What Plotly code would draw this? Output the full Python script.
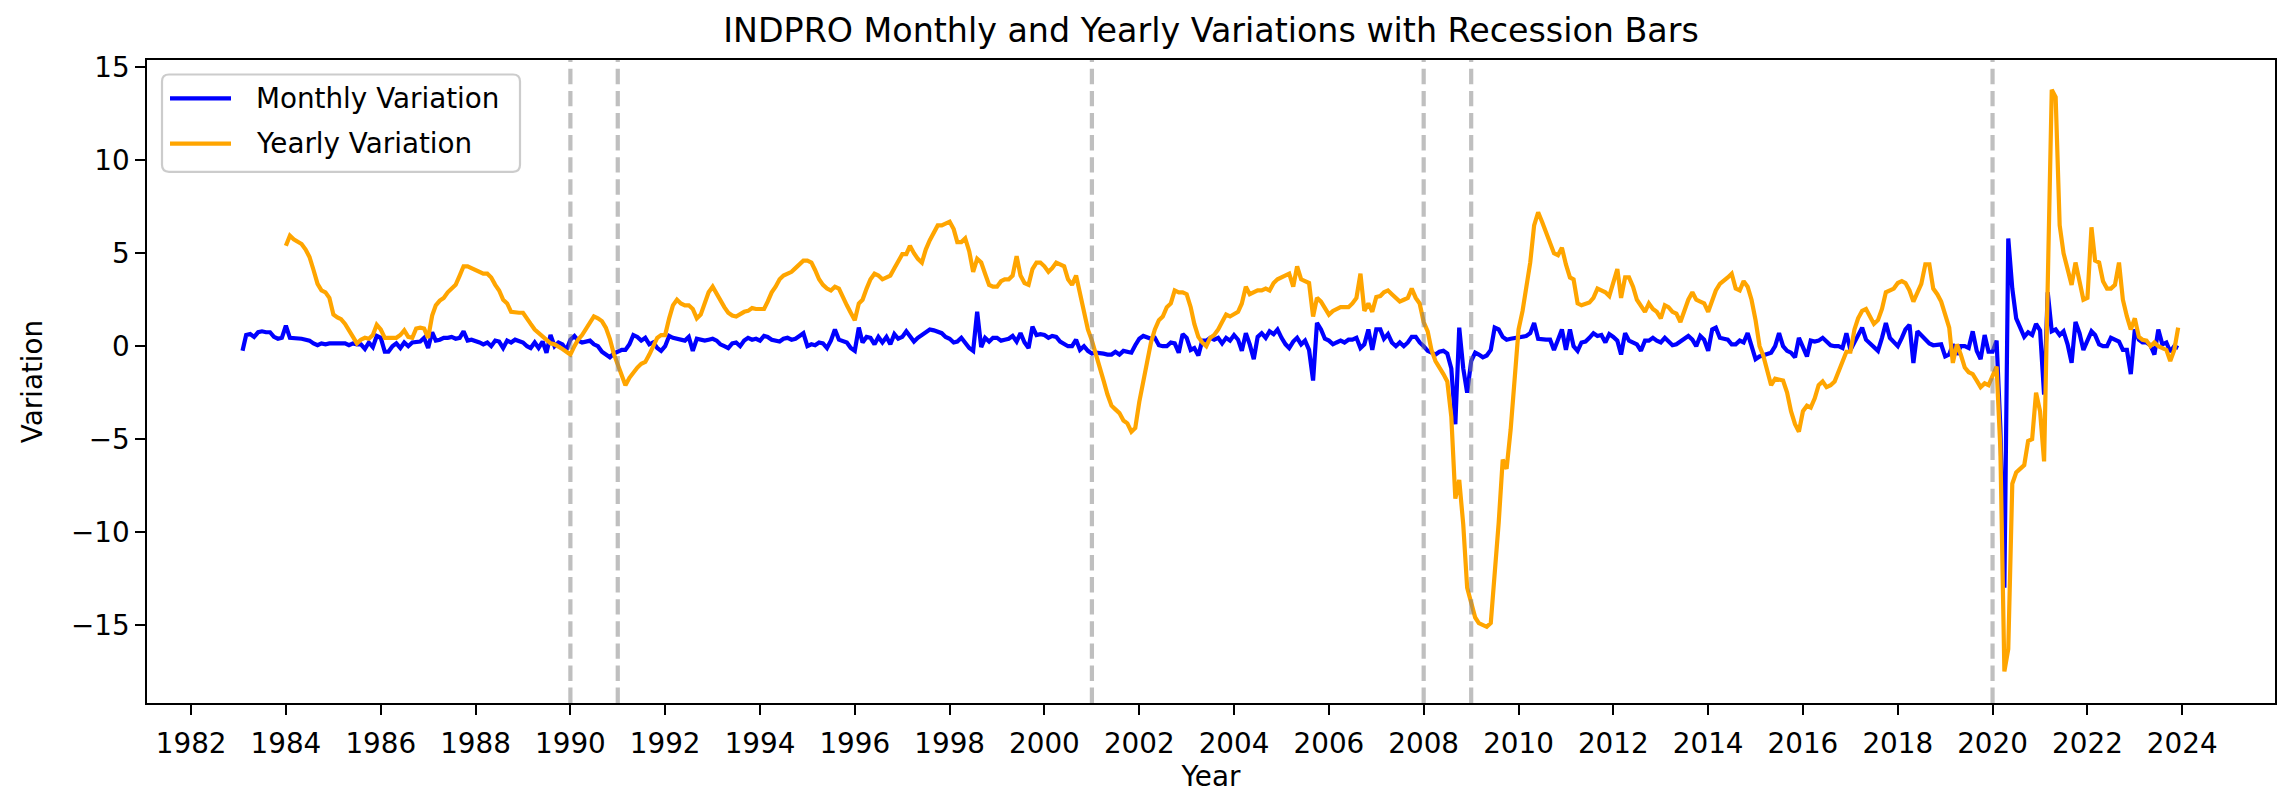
import pandas as pd
import plotly.graph_objects as go

# ---------------- data ----------------
# Monthly variation (%), Feb 1983 .. Dec 1989
monthly_1980s = [
    -0.25, 0.6, 0.65, 0.5, 0.75, 0.8, 0.75, 0.75, 0.5, 0.4, 0.45,
    1.1, 0.45, 0.45, 0.45, 0.4, 0.35, 0.3, 0.15, 0.05, 0.15, 0.1, 0.15,
    0.15, 0.1, 0.1, 0.15, 0.05, 0.15, 0.1, 0.1, -0.15, 0.2, -0.05, 0.55,
    0.45, -0.3, -0.3, 0.0, 0.15, -0.1, 0.2, 0.0, 0.2, 0.2, 0.25, 0.45,
    -0.1, 0.75, 0.3, 0.35, 0.45, 0.45, 0.5, 0.4, 0.45, 0.8, 0.3, 0.35,
    0.3, 0.2, 0.1, 0.2, 0.0, 0.3, 0.25, -0.1, 0.3, 0.2, 0.35, 0.25,
    0.2, 0.0, -0.1, 0.2, -0.1, 0.25, -0.35, 0.6, 0.0, 0.2, 0.1, -0.2,
]
# Monthly variation (%), Jan 1990 .. Dec 1999
monthly_1990s = [
    0.35, 0.55, 0.3, 0.2, 0.25, 0.3, 0.1, 0.0, -0.3, -0.45, -0.6, -0.4,
    -0.3, -0.2, -0.2, 0.1, 0.6, 0.5, 0.3, 0.45, 0.1, 0.2, -0.1, -0.25,
    0.0, 0.55, 0.45, 0.4, 0.35, 0.3, 0.5, -0.25, 0.4, 0.35, 0.3, 0.35,
    0.4, 0.3, 0.1, 0.0, -0.1, 0.15, 0.2, 0.0, 0.3, 0.45, 0.35, 0.4,
    0.3, 0.55, 0.5, 0.35, 0.3, 0.25, 0.4, 0.45, 0.35, 0.4, 0.55, 0.7,
    0.0, 0.1, 0.05, 0.2, 0.15, -0.1, 0.3, 0.9, 0.35, 0.25, 0.2, -0.1,
    -0.25, 1.0, 0.2, 0.5, 0.45, 0.1, 0.5, 0.2, 0.5, 0.1, 0.65, 0.4,
    0.5, 0.8, 0.5, 0.25, 0.45, 0.6, 0.75, 0.9, 0.85, 0.75, 0.7, 0.5,
    0.4, 0.2, 0.25, 0.45, 0.2, -0.1, -0.25, 1.85, -0.05, 0.45, 0.25, 0.45,
    0.45, 0.3, 0.35, 0.4, 0.55, 0.25, 0.7, 0.2, -0.1, 1.05, 0.6, 0.65,
]
# Monthly variation (%), Jan 2000 .. Dec 2009
monthly_2000s = [
    0.6, 0.45, 0.55, 0.5, 0.25, 0.1, 0.0, 0.0, 0.35, -0.2, 0.0, -0.25,
    -0.4, -0.35, -0.35, -0.4, -0.45, -0.45, -0.3, -0.45, -0.25, -0.3, -0.35, 0.05,
    0.4, 0.55, 0.45, 0.4, 0.45, 0.05, 0.0, 0.0, 0.2, 0.15, -0.35, 0.65,
    0.45, -0.2, -0.1, -0.5, 0.3, 0.3, 0.45, 0.35, 0.45, 0.15, 0.45, 0.3,
    0.6, 0.35, -0.25, 0.7, 0.1, -0.7, 0.5, 0.7, 0.45, 0.8, 0.65, 0.9,
    0.45, 0.1, -0.1, 0.25, 0.45, 0.1, 0.3, -0.2, -1.85, 1.25, 0.9, 0.4,
    0.3, 0.1, 0.2, 0.3, 0.2, 0.35, 0.35, 0.45, -0.1, 0.1, 0.9, -0.2,
    0.9, 0.9, 0.4, 0.65, 0.2, 0.0, 0.2, 0.0, 0.2, 0.5, 0.5, 0.2,
    0.0, -0.25, -0.35, -0.45, -0.3, -0.25, -0.4, -1.2, -4.2, 1.0, -1.2, -2.5,
    -0.8, -0.35, -0.45, -0.6, -0.5, -0.2, 1.0, 0.9, 0.5, 0.35, 0.4, 0.45,
]
# Monthly variation (%), Jan 2010 .. Dec 2019
monthly_2010s = [
    0.45, 0.5, 0.55, 0.7, 1.25, 0.4, 0.35, 0.35, 0.35, -0.2, 0.35, 0.9,
    -0.2, 0.9, 0.0, -0.25, 0.2, 0.25, 0.45, 0.7, 0.55, 0.6, 0.2, 0.65,
    0.5, 0.3, -0.45, 0.7, 0.3, 0.2, 0.1, -0.25, 0.3, 0.3, 0.45, 0.3,
    0.2, 0.45, 0.25, 0.05, 0.1, 0.25, 0.4, 0.55, 0.35, 0.0, 0.55, 0.35,
    -0.25, 0.9, 1.0, 0.45, 0.4, 0.35, 0.1, 0.1, 0.3, 0.2, 0.7, 0.0,
    -0.7, -0.55, -0.5, -0.45, -0.35, 0.0, 0.7, 0.0, -0.25, -0.35, -0.6, 0.45,
    0.0, -0.55, 0.3, 0.25, 0.3, 0.45, 0.25, 0.05, 0.0, 0.0, -0.1, 0.7,
    -0.2, 0.2, 0.5, 1.0, 0.35, 0.15, 0.0, -0.25, 0.45, 1.25, 0.45, 0.25,
    0.0, 0.45, 0.9, 1.15, -0.9, 0.8, 0.6, 0.35, 0.15, 0.05, 0.1, 0.1,
    -0.55, -0.45, 0.1, -0.45, 0.0, 0.0, -0.1, 0.8, -0.25, -0.7, 0.6, -0.3,
]
# Monthly variation (%), Jan 2020 .. Dec 2023
monthly_2020s = [
    -0.3, 0.3, -4.4, -13.0, 5.8, 3.1, 1.5, 1.0, 0.5, 0.75, 0.6, 1.2,
    0.85, -2.6, 2.9, 0.8, 0.9, 0.6, 0.8, 0.1, -0.9, 1.3, 0.7, -0.2,
    0.3, 0.8, 0.6, 0.1, 0.0, 0.0, 0.45, 0.35, 0.25, -0.2, -0.2, -1.5,
    0.9, 0.35, 0.2, 0.2, 0.05, -0.45, 0.9, 0.1, 0.2, -0.3, 0.0, -0.1,
]

# Yearly variation (%), Jan 1984 .. Dec 1989
yearly_1980s = [
    5.4, 5.95, 5.75, 5.6, 5.5, 5.2, 4.8, 4.1, 3.35, 3.0, 2.9, 2.6,
    1.7, 1.55, 1.45, 1.2, 0.9, 0.5, 0.15, 0.35, 0.45, 0.4, 0.6, 1.15,
    0.9, 0.45, 0.45, 0.45, 0.45, 0.6, 0.85, 0.5, 0.45, 0.95, 1.0, 0.95,
    0.45, 1.65, 2.2, 2.45, 2.6, 2.9, 3.1, 3.3, 3.8, 4.3, 4.3, 4.2,
    4.15, 4.0, 3.9, 3.9, 3.7, 3.3, 3.0, 2.5, 2.3, 1.85, 1.8, 1.8,
    1.8, 1.45, 1.2, 0.9, 0.7, 0.5, 0.35, 0.15, 0.1, 0.0, -0.15, -0.3,
]
# Yearly variation (%), Jan 1990 .. Dec 1999
yearly_1990s = [
    -0.45, 0.0, 0.35, 0.6, 0.9, 1.3, 1.6, 1.5, 1.35, 1.0, 0.4, -0.4,
    -1.0, -1.6, -2.1, -1.7, -1.4, -1.15, -0.95, -0.85, -0.45, 0.0, 0.45, 0.6,
    0.6, 1.5, 2.2, 2.5, 2.3, 2.2, 2.2, 2.0, 1.5, 1.7, 2.4, 2.9,
    3.2, 2.8, 2.4, 2.1, 1.8, 1.65, 1.6, 1.75, 1.85, 1.9, 2.05, 2.0,
    2.0, 2.0, 2.4, 2.9, 3.2, 3.6, 3.8, 3.9, 4.0, 4.2, 4.4, 4.6,
    4.6, 4.5, 4.1, 3.6, 3.3, 3.1, 3.0, 3.2, 3.1, 2.6, 2.2, 1.8,
    1.4, 2.3, 2.5, 3.1, 3.6, 3.9, 3.8, 3.6, 3.7, 3.8, 4.2, 4.6,
    4.95, 4.95, 5.4, 5.0, 4.7, 4.5, 5.2, 5.7, 6.1, 6.5, 6.5, 6.6,
    6.7, 6.3, 5.6, 5.6, 5.8, 5.1, 4.0, 4.7, 4.5, 3.9, 3.3, 3.2,
    3.2, 3.5, 3.6, 3.6, 3.8, 4.85, 3.8, 3.4, 3.3, 4.15, 4.5, 4.5,
]
# Yearly variation (%), Jan 2000 .. Dec 2009
yearly_2000s = [
    4.3, 4.0, 4.2, 4.5, 4.4, 4.3, 3.6, 3.3, 3.8, 2.8, 1.85, 0.9,
    0.3, -0.4, -1.0, -1.85, -2.6, -3.2, -3.4, -3.6, -4.0, -4.15, -4.6, -4.4,
    -3.0, -2.0, -0.9, 0.2, 0.9, 1.4, 1.6, 2.1, 2.3, 3.0, 2.9, 2.9,
    2.8, 2.1, 1.2, 0.5, 0.2, 0.0, 0.45, 0.6, 0.9, 1.3, 1.7, 1.6,
    1.75, 1.85, 2.3, 3.2, 2.8, 2.9, 3.0, 3.0, 3.1, 3.0, 3.4, 3.6,
    3.7, 3.8, 3.9, 3.2, 4.3, 3.6, 3.5, 3.4, 1.6, 2.6, 2.4, 2.1,
    1.7, 1.9, 2.0, 2.1, 2.1, 2.1, 2.3, 2.6, 3.9, 1.9, 2.3, 1.85,
    2.65, 2.7, 2.9, 3.0, 2.8, 2.6, 2.4, 2.5, 2.6, 3.1, 2.6, 2.3,
    1.3, 0.8, -0.2, -0.8, -1.1, -1.5, -1.9, -3.8, -8.2, -7.2, -9.6, -13.0,
    -13.8, -14.6, -14.9, -15.0, -15.1, -14.9, -12.5, -9.5, -6.1, -6.6, -4.5, -1.6,
]
# Yearly variation (%), Jan 2010 .. Dec 2019
yearly_2010s = [
    0.9, 1.9, 3.3, 4.5, 6.5, 7.2, 6.7, 6.1, 5.6, 5.0, 4.9, 5.3,
    4.4, 3.7, 3.6, 2.3, 2.2, 2.25, 2.35, 2.6, 3.1, 3.0, 2.9, 2.7,
    3.5, 4.15, 2.6, 3.7, 3.7, 3.2, 2.5, 2.2, 1.85, 2.3, 2.0, 1.85,
    1.5, 2.2, 2.1, 1.85, 1.75, 1.3, 1.9, 2.5, 2.9, 2.5, 2.4, 2.3,
    1.85, 2.5, 3.0, 3.35, 3.5, 3.7, 3.9, 3.1, 3.0, 3.5, 3.2, 2.5,
    1.4, 0.0, -0.5, -1.4, -2.1, -1.75, -1.8, -1.85, -2.5, -3.5, -4.2, -4.6,
    -3.5, -3.2, -3.3, -2.8, -2.1, -1.9, -2.2, -2.1, -1.9, -1.4, -0.8, -0.3,
    -0.3, 0.9, 1.5, 1.9, 2.0, 1.6, 1.2, 1.4, 2.0, 2.9, 3.0, 3.1,
    3.4, 3.5, 3.4, 3.0, 2.4, 2.9, 3.35, 4.4, 4.4, 3.1, 2.8, 2.4,
    1.6, 1.0, -0.9, 0.1, -0.45, -1.15, -1.4, -1.5, -1.85, -2.2, -2.0, -2.1,
]
# Yearly variation (%), Jan 2020 .. Dec 2023
yearly_2020s = [
    -1.6, -1.1, -5.5, -17.5, -16.3, -7.4, -6.8, -6.6, -6.4, -5.1, -5.0, -2.5,
    -3.5, -6.2, 2.8, 13.8, 13.4, 6.5, 5.0, 4.2, 3.3, 4.5, 3.5, 2.5,
    2.6, 6.4, 4.6, 4.5, 3.5, 3.1, 3.1, 3.3, 4.5, 2.5, 1.6, 0.9,
    1.5, 0.5, 0.35, 0.3, 0.0, 0.2, 0.0, -0.1, -0.2, -0.8, -0.2, 1.0,
]

series_names = ["Monthly Variation", "Yearly Variation"]
recession_years = [1990, 1991, 2001, 2008, 2009, 2020]
tick_years = list(range(1982, 2025, 2))
y_ticks = [-15, -10, -5, 0, 5, 10, 15]

# ---------------- figure ----------------
monthly = monthly_1980s + monthly_1990s + monthly_2000s + monthly_2010s + monthly_2020s
yearly = yearly_1980s + yearly_1990s + yearly_2000s + yearly_2010s + yearly_2020s
monthly_dates = pd.date_range("1983-02-01", periods=len(monthly), freq="MS")
yearly_dates = pd.date_range("1984-01-01", periods=len(yearly), freq="MS")

FONT = "DejaVu Sans"
LW = 4.2
COLORS = ["#0000ff", "#ffa500"]

fig = go.Figure()
fig.add_trace(go.Scatter(x=monthly_dates, y=monthly, mode="lines",
                         name=series_names[0], showlegend=False,
                         line=dict(color=COLORS[0], width=LW)))
fig.add_trace(go.Scatter(x=yearly_dates, y=yearly, mode="lines",
                         name=series_names[1], showlegend=False,
                         line=dict(color=COLORS[1], width=LW)))

for yr in recession_years:
    fig.add_shape(type="line", xref="x", yref="paper",
                  x0=f"{yr}-01-01", x1=f"{yr}-01-01", y0=0, y1=1,
                  line=dict(color="rgba(128,128,128,0.5)", width=LW, dash="15.4px,6.7px"),
                  layer="above")

# ---- matplotlib-like legend box (upper left) built in pixel units from the plot corner ----
PLOT_W, PLOT_H = 2128, 643
bx0, bx1, byT, byB, r = 15, 373, -14.5, -111.8, 7
box_path = (f"M {bx0 + r},{byT} L {bx1 - r},{byT} Q {bx1},{byT} {bx1},{byT - r} "
            f"L {bx1},{byB + r} Q {bx1},{byB} {bx1 - r},{byB} "
            f"L {bx0 + r},{byB} Q {bx0},{byB} {bx0},{byB + r} "
            f"L {bx0},{byT - r} Q {bx0},{byT} {bx0 + r},{byT} Z")
fig.add_shape(type="path", path=box_path, xref="paper", yref="paper",
              xsizemode="pixel", ysizemode="pixel", xanchor=0, yanchor=1,
              fillcolor="rgba(255,255,255,0.8)", line=dict(color="#cccccc", width=2.2),
              layer="above")
row_y = [-38.3, -83.6]
for name, col, ry in zip(series_names, COLORS, row_y):
    fig.add_shape(type="line", xref="paper", yref="paper",
                  xsizemode="pixel", ysizemode="pixel", xanchor=0, yanchor=1,
                  x0=23, x1=84, y0=ry, y1=ry,
                  line=dict(color=col, width=LW), layer="above")
    fig.add_annotation(text=name, xref="paper", yref="paper",
                       x=(254 - 147) / PLOT_W, y=1 + ry / PLOT_H,
                       xanchor="left", yanchor="middle", showarrow=False,
                       font=dict(family=FONT, size=27.8, color="black"))

axis_common = dict(showline=True, linecolor="black", linewidth=2.2, mirror=True,
                   ticks="outside", ticklen=9.7, tickwidth=2.2, tickcolor="black",
                   showgrid=False, zeroline=False,
                   tickfont=dict(family=FONT, size=27.8, color="black"))

fig.update_layout(
    width=2289, height=804,
    margin=dict(l=147, r=14, t=60, b=101),
    paper_bgcolor="white", plot_bgcolor="white",
    font=dict(family=FONT, size=27.8, color="black"),
    title=dict(text="INDPRO Monthly and Yearly Variations with Recession Bars",
               x=0.5, xref="paper", xanchor="center",
               y=1, yref="paper", yanchor="bottom", pad=dict(b=18),
               font=dict(family=FONT, size=33.3, color="black")),
    xaxis=dict(type="date", range=["1981-01-26", "2025-12-16"],
               tickvals=[f"{y}-01-01" for y in tick_years],
               ticktext=[str(y) for y in tick_years],
               ticklabelstandoff=5,
               title=dict(text="Year", standoff=4,
                          font=dict(family=FONT, size=27.8, color="black")),
               **axis_common),
    yaxis=dict(range=[-19.2, 15.4], tickvals=y_ticks,
               ticktext=[str(v).replace("-", "\u2212") for v in y_ticks],
               title=dict(text="Variation", standoff=20,
                          font=dict(family=FONT, size=27.8, color="black")),
               **axis_common),
    showlegend=False,
)

fig.write_html("out.html", config={"displayModeBar": False},
               post_script="document.body.style.margin='0px';")
